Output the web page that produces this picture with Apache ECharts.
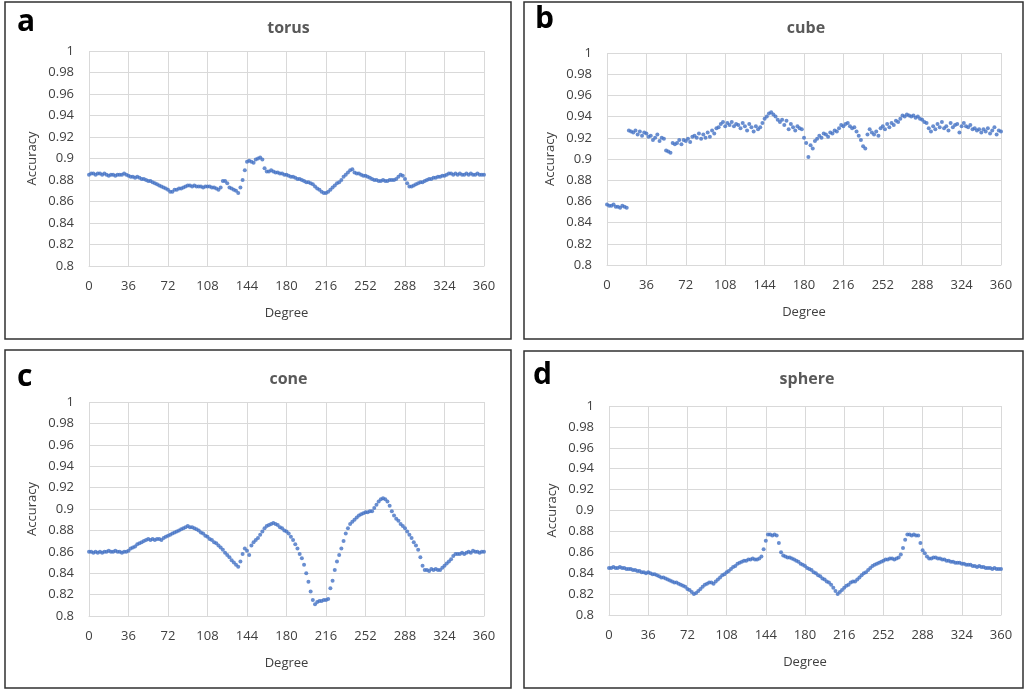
<!DOCTYPE html>
<html>
<head>
<meta charset="utf-8">
<script src="https://cdn.jsdelivr.net/npm/echarts@6/dist/echarts.min.js"></script>
<style>
  html, body { margin: 0; padding: 0; background: #fff; }
  #chart { width: 1025px; height: 690px; }
</style>
</head>
<body>
<div id="chart"></div>
<script>
// degrees sampled every 2 degrees
const degrees = [
  0, 2, 4, 6, 8, 10, 12, 14, 16, 18,
  20, 22, 24, 26, 28, 30, 32, 34, 36, 38,
  40, 42, 44, 46, 48, 50, 52, 54, 56, 58,
  60, 62, 64, 66, 68, 70, 72, 74, 76, 78,
  80, 82, 84, 86, 88, 90, 92, 94, 96, 98,
  100, 102, 104, 106, 108, 110, 112, 114, 116, 118,
  120, 122, 124, 126, 128, 130, 132, 134, 136, 138,
  140, 142, 144, 146, 148, 150, 152, 154, 156, 158,
  160, 162, 164, 166, 168, 170, 172, 174, 176, 178,
  180, 182, 184, 186, 188, 190, 192, 194, 196, 198,
  200, 202, 204, 206, 208, 210, 212, 214, 216, 218,
  220, 222, 224, 226, 228, 230, 232, 234, 236, 238,
  240, 242, 244, 246, 248, 250, 252, 254, 256, 258,
  260, 262, 264, 266, 268, 270, 272, 274, 276, 278,
  280, 282, 284, 286, 288, 290, 292, 294, 296, 298,
  300, 302, 304, 306, 308, 310, 312, 314, 316, 318,
  320, 322, 324, 326, 328, 330, 332, 334, 336, 338,
  340, 342, 344, 346, 348, 350, 352, 354, 356, 358,
  360
];

const torus = [
  .885, .886, .886, .885, .886, .886, .885, .886, .885, .884,
  .885, .885, .884, .885, .885, .885, .886, .885, .884, .883,
  .883, .882, .883, .882, .881, .881, .880, .879, .879, .878,
  .877, .876, .875, .874, .873, .872, .871, .869, .869, .871,
  .871, .872, .872, .873, .874, .875, .875, .874, .875, .874,
  .874, .874, .873, .874, .874, .874, .873, .873, .872, .871,
  .873, .879, .879, .877, .873, .872, .871, .870, .868, .873,
  .880, .889, .897, .898, .897, .896, .899, .900, .901, .899,
  .891, .888, .888, .889, .888, .887, .887, .886, .886, .885,
  .885, .884, .883, .883, .882, .881, .881, .880, .879, .878,
  .878, .877, .876, .874, .872, .871, .869, .868, .868, .869,
  .871, .873, .875, .877, .878, .880, .883, .885, .887, .889,
  .890, .887, .886, .886, .885, .884, .884, .883, .882, .881,
  .880, .880, .879, .879, .880, .879, .879, .880, .880, .880,
  .881, .883, .885, .884, .881, .877, .874, .874, .875, .876,
  .877, .878, .878, .879, .880, .881, .881, .882, .882, .883,
  .883, .884, .884, .885, .886, .886, .885, .886, .885, .886,
  .885, .885, .886, .885, .886, .885, .885, .886, .885, .885,
  .885
];

const cube = [
  .857, .856, .856, .857, .855, .855, .854, .856, .855, .854,
  .927, .926, .925, .927, .923, .926, .922, .925, .924, .921,
  .922, .918, .920, .923, .917, .920, .919, .908, .907, .906,
  .915, .914, .915, .918, .914, .918, .917, .919, .916, .921,
  .922, .920, .924, .919, .923, .920, .925, .921, .927, .924,
  .929, .930, .933, .935, .931, .934, .932, .935, .931, .933,
  .932, .929, .934, .931, .927, .933, .930, .926, .931, .928,
  .930, .934, .938, .940, .943, .944, .942, .940, .937, .935,
  .937, .932, .936, .928, .933, .930, .927, .931, .929, .928,
  .920, .915, .902, .913, .910, .917, .919, .922, .920, .924,
  .923, .921, .925, .924, .927, .926, .929, .932, .931, .933,
  .934, .931, .929, .930, .926, .922, .918, .912, .910, .923,
  .928, .925, .923, .926, .922, .929, .931, .928, .933, .930,
  .934, .932, .936, .935, .938, .941, .940, .942, .941, .940,
  .941, .939, .940, .938, .937, .935, .934, .929, .926, .931,
  .928, .933, .930, .935, .929, .931, .927, .934, .930, .932,
  .933, .925, .931, .934, .931, .930, .932, .928, .929, .927,
  .928, .925, .928, .926, .929, .924, .927, .930, .923, .927,
  .926
];

const cone = [
  .860, .860, .859, .860, .859, .860, .859, .860, .860, .861,
  .860, .860, .861, .860, .860, .859, .860, .860, .861, .863,
  .864, .865, .867, .868, .869, .870, .871, .872, .871, .872,
  .871, .872, .872, .871, .873, .874, .875, .876, .877, .878,
  .879, .880, .881, .882, .883, .884, .883, .883, .882, .881,
  .880, .878, .877, .875, .874, .872, .871, .869, .868, .866,
  .864, .862, .859, .857, .855, .852, .850, .848, .846, .851,
  .858, .863, .861, .857, .866, .869, .871, .873, .876, .879,
  .882, .884, .885, .886, .887, .886, .885, .883, .882, .880,
  .879, .877, .874, .871, .867, .863, .858, .854, .848, .840,
  .832, .823, .815, .811, .813, .814, .814, .815, .815, .816,
  .826, .833, .843, .851, .857, .863, .870, .877, .882, .886,
  .888, .890, .892, .894, .895, .896, .897, .897, .898, .898,
  .901, .904, .907, .909, .910, .909, .907, .903, .898, .894,
  .891, .889, .886, .884, .882, .879, .876, .873, .869, .866,
  .862, .855, .847, .843, .843, .842, .844, .843, .844, .843,
  .843, .845, .847, .849, .851, .853, .856, .858, .858, .858,
  .859, .858, .859, .860, .859, .861, .860, .860, .859, .860,
  .860
];

const sphere = [
  .845, .845, .846, .845, .845, .846, .845, .845, .844, .844,
  .844, .843, .843, .842, .842, .841, .841, .840, .841, .840,
  .839, .839, .838, .837, .836, .836, .835, .834, .833, .832,
  .831, .831, .830, .829, .828, .827, .825, .824, .822, .820,
  .821, .823, .825, .827, .829, .830, .831, .831, .830, .832,
  .834, .836, .838, .839, .841, .842, .844, .846, .847, .849,
  .850, .851, .852, .852, .853, .853, .854, .853, .853, .854,
  .856, .863, .871, .877, .877, .876, .877, .876, .869, .860,
  .857, .856, .855, .855, .854, .853, .852, .851, .849, .848,
  .847, .845, .844, .843, .841, .840, .838, .837, .835, .834,
  .832, .831, .829, .826, .823, .820, .822, .824, .826, .828,
  .829, .831, .832, .832, .834, .836, .838, .840, .841, .843,
  .845, .847, .848, .849, .850, .851, .852, .853, .853, .854,
  .854, .853, .854, .855, .858, .864, .872, .877, .877, .876,
  .877, .876, .876, .869, .862, .859, .856, .854, .854, .855,
  .855, .854, .854, .853, .853, .852, .852, .851, .851, .850,
  .850, .850, .849, .849, .848, .848, .848, .847, .847, .846,
  .847, .846, .846, .845, .845, .845, .844, .845, .844, .844,
  .844
];

const panels = [
  { letter: 'a', title: 'torus',  values: torus,
    box: [5, 2, 506, 337],   letterPos: [17, 7],    titleTop: 15,
    grid: { left: 89,  top: 51,  width: 395, height: 215 } },
  { letter: 'b', title: 'cube',   values: cube,
    box: [524, 2, 499, 337], letterPos: [535, 4],   titleTop: 15,
    grid: { left: 607, top: 53,  width: 394, height: 212 } },
  { letter: 'c', title: 'cone',   values: cone,
    box: [5, 350, 506, 338], letterPos: [17, 362],  titleTop: 366,
    grid: { left: 89,  top: 402, width: 395, height: 214 } },
  { letter: 'd', title: 'sphere', values: sphere,
    box: [524, 351, 499, 337], letterPos: [533, 360], titleTop: 366,
    grid: { left: 609, top: 406, width: 392, height: 209 } }
];

const FONT = '"Open Sans", "Noto Sans", sans-serif';
const gridColor = '#d9d9d9';
const textColor = '#404040';

const chart = echarts.init(document.getElementById('chart'));

chart.setOption({
  animation: false,
  backgroundColor: '#fff',
  textStyle: { fontFamily: FONT },
  title: panels.map(p => ({
    text: p.title,
    left: p.grid.left + p.grid.width / 2 - 3,
    top: p.titleTop,
    textAlign: 'center',
    textStyle: { fontSize: 16, fontWeight: 'bold', color: '#595959', fontFamily: FONT }
  })),
  graphic: panels.flatMap(p => [
    {
      type: 'rect',
      shape: { x: p.box[0], y: p.box[1], width: p.box[2], height: p.box[3] },
      style: { fill: 'none', stroke: '#303030', lineWidth: 1.5 }
    },
    {
      type: 'text',
      left: p.letterPos[0],
      top: p.letterPos[1],
      style: { text: p.letter, font: 'bold 30px ' + FONT, fill: '#000' }
    }
  ]),
  grid: panels.map(p => Object.assign({ containLabel: false }, p.grid)),
  xAxis: panels.map((p, i) => ({
    type: 'value',
    gridIndex: i,
    min: 0,
    max: 360,
    interval: 36,
    name: 'Degree',
    nameLocation: 'middle',
    nameGap: 41,
    nameTextStyle: { fontSize: 13, color: textColor },
    axisLine: { show: true, lineStyle: { color: gridColor } },
    axisTick: { show: false },
    axisLabel: { color: textColor, fontSize: 13, margin: 14 },
    splitLine: { show: true, lineStyle: { color: gridColor } }
  })),
  yAxis: panels.map((p, i) => ({
    type: 'value',
    gridIndex: i,
    min: 0.8,
    max: 1,
    interval: 0.02,
    name: 'Accuracy',
    nameLocation: 'middle',
    nameGap: 50,
    nameTextStyle: { fontSize: 13, color: textColor },
    axisLine: { show: false },
    axisTick: { show: false },
    axisLabel: {
      color: textColor,
      fontSize: 13,
      margin: 15,
      formatter: v => String(+v.toFixed(2))
    },
    splitLine: { show: true, lineStyle: { color: gridColor } }
  })),
  series: panels.map((p, i) => ({
    type: 'scatter',
    xAxisIndex: i,
    yAxisIndex: i,
    symbol: 'circle',
    symbolSize: 4,
    itemStyle: { color: '#4472c4' },
    data: degrees.map((d, k) => [d, p.values[k]])
  }))
});
</script>
</body>
</html>
